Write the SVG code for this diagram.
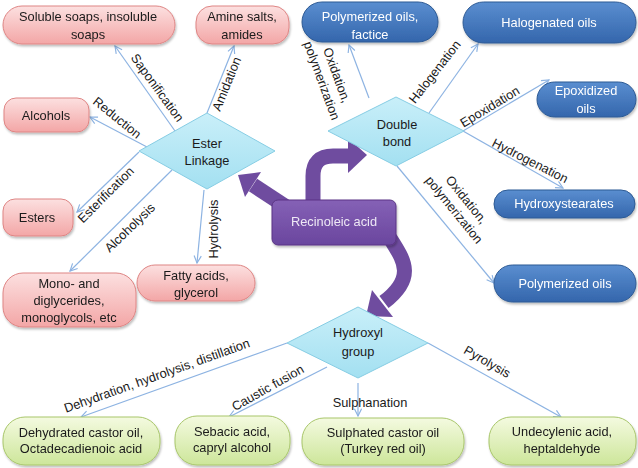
<svg xmlns="http://www.w3.org/2000/svg" width="638" height="468" viewBox="0 0 638 468">
<defs>
<linearGradient id="gPink" x1="0" y1="0" x2="0" y2="1"><stop offset="0" stop-color="#FCE0E0"/><stop offset="1" stop-color="#F3A6A6"/></linearGradient>
<linearGradient id="gBlue" x1="0" y1="0" x2="0" y2="1"><stop offset="0" stop-color="#5A8ED0"/><stop offset="1" stop-color="#3466AC"/></linearGradient>
<linearGradient id="gGreen" x1="0" y1="0" x2="0" y2="1"><stop offset="0" stop-color="#F4FAE0"/><stop offset="1" stop-color="#CDE69A"/></linearGradient>
<linearGradient id="gCyan" x1="0" y1="0" x2="0" y2="1"><stop offset="0" stop-color="#C9EFF9"/><stop offset="1" stop-color="#A3E0F1"/></linearGradient>
<linearGradient id="gPurple" x1="0" y1="0" x2="0" y2="1"><stop offset="0" stop-color="#8561B6"/><stop offset="1" stop-color="#6A469E"/></linearGradient>
<marker id="arr" markerUnits="userSpaceOnUse" viewBox="0 0 10 10" refX="9" refY="5" markerWidth="9" markerHeight="9" orient="auto">
<path d="M1,1 L9,5 L1,9" fill="none" stroke="#8DB3E2" stroke-width="1.3"/>
</marker>
<filter id="sh" x="-10%" y="-10%" width="125%" height="135%"><feDropShadow dx="1" dy="2" stdDeviation="1.2" flood-color="#000" flood-opacity="0.25"/></filter>
</defs>
<style>
text{font-family:"Liberation Sans",Arial,sans-serif;font-size:12.8px;fill:#1a1a1a;text-anchor:middle}
.pink{fill:url(#gPink);stroke:#DE8584;stroke-width:1}
.blue{fill:url(#gBlue);stroke:#2D5A94;stroke-width:1}
.green{fill:url(#gGreen);stroke:#A8C66A;stroke-width:1}
.dia{fill:url(#gCyan);stroke:#86CDE4;stroke-width:1}
.wt{fill:#ffffff}
.pt{fill:#EEE8F5}
.con line{stroke:#8DB3E2;stroke-width:1.2;marker-end:url(#arr)}
.big{fill:none;stroke:#6F4C9F;stroke-width:15}
.bighead{fill:#6F4C9F}
</style>

<g id="connectors" class="con">
<line x1="175" y1="131" x2="115" y2="46"/>
<line x1="207" y1="113" x2="234" y2="46"/>
<line x1="147" y1="147" x2="90" y2="117"/>
<line x1="139" y1="152" x2="77" y2="212"/>
<line x1="172" y1="170" x2="70" y2="271"/>
<line x1="204" y1="190" x2="197" y2="263"/>
<line x1="369" y1="98" x2="349" y2="45"/>
<line x1="429" y1="113" x2="478" y2="44"/>
<line x1="463" y1="131" x2="549" y2="80"/>
<line x1="463" y1="131" x2="563" y2="188"/>
<line x1="397" y1="166" x2="494" y2="283"/>
<line x1="287" y1="343" x2="81" y2="417"/>
<line x1="327" y1="367" x2="229" y2="417"/>
<line x1="358" y1="383" x2="358" y2="416"/>
<line x1="428" y1="343" x2="561" y2="417"/>
</g>

<g id="connector-labels">
<text transform="translate(157,88) rotate(54)" y="4">Saponification</text>
<text transform="translate(227,84) rotate(-68)" y="4">Amidation</text>
<text transform="translate(117,118) rotate(39)" y="4">Reduction</text>
<text transform="translate(106,195) rotate(-45)" y="4">Esterification</text>
<text transform="translate(130,228) rotate(-44)" y="4">Alcoholysis</text>
<text transform="translate(214,229) rotate(-90)" y="4">Hydrolysis</text>
<text transform="translate(329,78) rotate(70)"><tspan x="0" y="-4">Oxidation,</tspan><tspan x="0" y="12">polymerization</tspan></text>
<text transform="translate(435,72) rotate(-52)" y="4">Halogenation</text>
<text transform="translate(490,107) rotate(-31)" y="4">Epoxidation</text>
<text transform="translate(530,161) rotate(27)" y="4">Hydrogenation</text>
<text transform="translate(460,205) rotate(51)"><tspan x="0" y="-4">Oxidation,</tspan><tspan x="0" y="12">polymerization</tspan></text>
<text transform="translate(157,376) rotate(-19.7)" y="4">Dehydration, hydrolysis, distillation</text>
<text transform="translate(268,388) rotate(-29.5)" y="4">Caustic fusion</text>
<text x="370" y="407">Sulphanation</text>
<text transform="translate(487,362) rotate(30)" y="4">Pyrolysis</text>
</g>

<g id="purple-arrows">
<line class="big" x1="253" y1="185" x2="288" y2="208"/>
<polygon class="bighead" points="238,175 261,172 245,197"/>
<path class="big" d="M313,206 L313,176 Q313,156 333,156 L350,156"/>
<polygon class="bighead" points="348,138 367,155 348,173"/>
<path class="big" d="M390,238 C402,258 418,276 384,302"/>
<polygon class="bighead" points="372,290 393,317 366,316"/>
</g>

<g id="n-soaps" filter="url(#sh)"><rect class="pink" x="3" y="6" width="172" height="38" rx="19"/><text x="88" y="21">Soluble soaps, insoluble</text><text x="88" y="39">soaps</text></g>
<g id="n-amine" filter="url(#sh)"><rect class="pink" x="196" y="6" width="93" height="38" rx="16"/><text x="242" y="21">Amine salts,</text><text x="242" y="39">amides</text></g>
<g id="n-alcohols" filter="url(#sh)"><rect class="pink" x="4" y="98" width="85" height="34" rx="12"/><text x="46" y="120">Alcohols</text></g>
<g id="n-esters" filter="url(#sh)"><rect class="pink" x="3" y="199" width="70" height="37" rx="12"/><text x="37" y="222">Esters</text></g>
<g id="n-mono" filter="url(#sh)"><rect class="pink" x="3" y="273" width="133" height="54" rx="20"/><text x="69" y="288">Mono- and</text><text x="69" y="305">diglycerides,</text><text x="69" y="322">monoglycols, etc</text></g>
<g id="n-fatty" filter="url(#sh)"><rect class="pink" x="137" y="265" width="118" height="36" rx="18"/><text x="196" y="280">Fatty acids,</text><text x="196" y="297">glycerol</text></g>

<g id="n-ester-linkage"><polygon class="dia" points="207,113 275,151 207,189 139,151"/><text x="207" y="148">Ester</text><text x="207" y="165">Linkage</text></g>
<g id="n-double-bond"><polygon class="dia" points="396,97 464,131 396,166 328,131"/><text x="397" y="129">Double</text><text x="397" y="146">bond</text></g>
<g id="n-hydroxyl"><polygon class="dia" points="358,307 428,343 358,378 287,343"/><text x="358" y="337">Hydroxyl</text><text x="358" y="356">group</text></g>

<g id="n-poly-factice" filter="url(#sh)"><rect class="blue" x="302" y="2" width="136" height="40" rx="20"/><text class="wt" x="370" y="21">Polymerized oils,</text><text class="wt" x="370" y="39">factice</text></g>
<g id="n-halogenated" filter="url(#sh)"><rect class="blue" x="463" y="2" width="173" height="41" rx="20.5"/><text class="wt" x="549" y="27">Halogenated oils</text></g>
<g id="n-epoxidized" filter="url(#sh)"><rect class="blue" x="537" y="82" width="99" height="35" rx="17.5"/><text class="wt" x="586" y="95">Epoxidized</text><text class="wt" x="586" y="113">oils</text></g>
<g id="n-hydroxystearates" filter="url(#sh)"><rect class="blue" x="494" y="190" width="141" height="28" rx="14"/><text class="wt" x="564" y="208">Hydroxystearates</text></g>
<g id="n-polymerized" filter="url(#sh)"><rect class="blue" x="494" y="265" width="142" height="37" rx="18.5"/><text class="wt" x="565" y="288">Polymerized oils</text></g>

<g id="n-recinoleic" filter="url(#sh)"><rect x="272" y="200" width="124" height="45" rx="6" fill="url(#gPurple)" stroke="#5B3585"/><text class="pt" x="334" y="226">Recinoleic acid</text></g>

<g id="n-dehydrated" filter="url(#sh)"><rect class="green" x="3" y="417" width="157" height="48" rx="22"/><text x="81" y="437">Dehydrated castor oil,</text><text x="81" y="453">Octadecadienoic acid</text></g>
<g id="n-sebacic" filter="url(#sh)"><rect class="green" x="175" y="416" width="115" height="49" rx="22"/><text x="232" y="436">Sebacic acid,</text><text x="232" y="452">capryl alcohol</text></g>
<g id="n-sulphated" filter="url(#sh)"><rect class="green" x="302" y="418" width="162" height="47" rx="22"/><text x="383" y="437">Sulphated castor oil</text><text x="383" y="453">(Turkey red oil)</text></g>
<g id="n-undecylenic" filter="url(#sh)"><rect class="green" x="489" y="417" width="147" height="48" rx="22"/><text x="562" y="436">Undecylenic acid,</text><text x="562" y="453">heptaldehyde</text></g>
</svg>
